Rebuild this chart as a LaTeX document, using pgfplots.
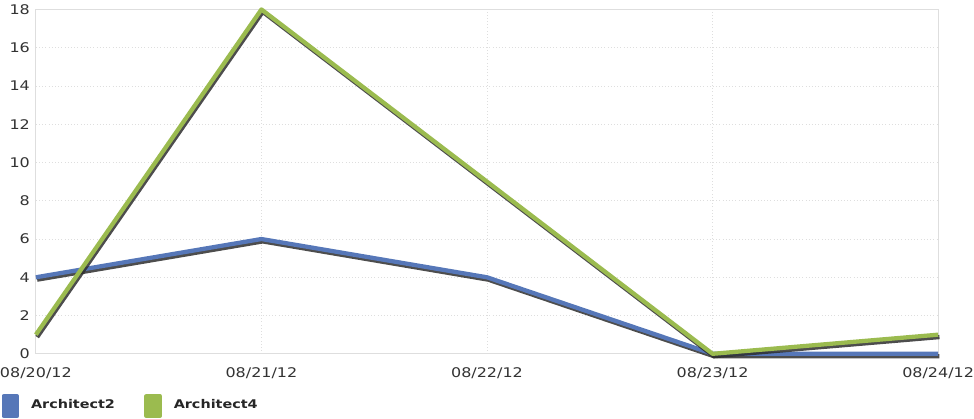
\documentclass[border=0pt]{standalone}
\usepackage{pgfplots}
\pgfplotsset{compat=1.18}
\usepackage{fontspec}
\setmainfont{DejaVu Sans}[FakeStretch=1.2]
\definecolor{archblue}{HTML}{5677B8}
\definecolor{archgreen}{HTML}{9BBB4F}
\definecolor{gridgray}{HTML}{DEDEDE}
\definecolor{shadow}{HTML}{2E2E2E}
\begin{document}
\begin{tikzpicture}
\begin{axis}[
    scale only axis,
    width=678pt,
    height=258.75pt,
    xmin=0, xmax=4,
    ymin=0, ymax=18,
    xtick={0,1,2,3,4},
    xticklabels={08/20/12,08/21/12,08/22/12,08/23/12,08/24/12},
    ytick={0,2,...,18},
    tick style={draw=none},
    axis line style={draw=gridgray, line width=0.8pt},
    grid=major,
    major grid style={gridgray, dotted, line width=0.7pt},
    ticklabel style={font=\fontsize{10pt}{12pt}\selectfont, text=black!80},
    /pgf/number format/assume math mode=true,
    xticklabel style={yshift=-7pt, inner xsep=0pt},
    yticklabel style={xshift=-1pt},
    clip=false,
    legend style={
        at={(0,0)}, anchor=north west,
        xshift=-26pt, yshift=-30pt,
        inner sep=0pt,
        draw=none, fill=none,
        font=\bfseries\fontsize{9pt}{11pt}\selectfont,
        text=black!85,
        legend columns=2,
        /tikz/every odd column/.append style={column sep=7pt},
        /tikz/every even column/.append style={column sep=20pt},
    },
    legend cell align=left,
    legend image code/.code={\fill[#1] (0pt,-8pt) rectangle (10pt,7pt);},
]
% shadows
\addplot[shadow, line width=3.2pt, opacity=0.85, shift={(1pt,-1.8pt)}, forget plot]
    coordinates {(0,4) (1,6) (2,4) (3,0) (4,0)};
\addplot[archblue, line width=3.2pt, line join=round]
    coordinates {(0,4) (1,6) (2,4) (3,0) (4,0)};
\addplot[shadow, line width=3.2pt, opacity=0.85, shift={(1pt,-1.8pt)}, forget plot]
    coordinates {(0,1) (1,18) (2,9) (3,0) (4,1)};
\addplot[archgreen, line width=3.2pt, line join=round]
    coordinates {(0,1) (1,18) (2,9) (3,0) (4,1)};
\legend{Architect2, Architect4}
\end{axis}
\end{tikzpicture}
\end{document}
